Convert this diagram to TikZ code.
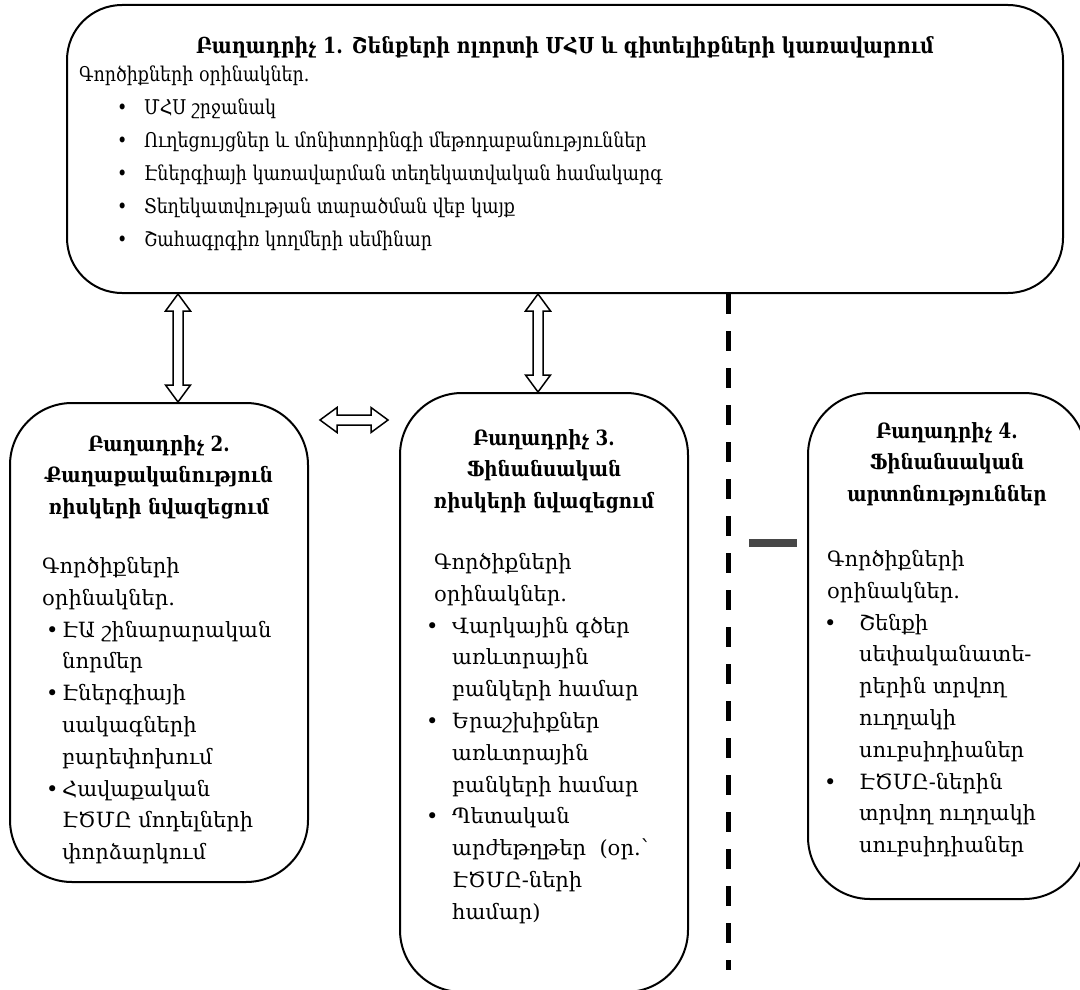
\documentclass[tikz,border=0pt]{standalone}
\usepackage{fontspec}
\setmainfont{DejaVu Serif}
\newfontfamily\narrowfont[FakeStretch=0.86]{DejaVu Serif}
\newfontfamily\headfont[FakeStretch=0.87]{DejaVu Serif}
\usetikzlibrary{positioning,calc}
\newcommand\blt[2]{\hspace*{#1pt}\makebox[#2pt][l]{\textbullet}}
\newcommand\cnt[1]{\hspace*{#1pt}}

\tikzset{
  comp/.style={draw, line width=2pt, rounded corners=62pt, inner sep=0pt},
  head/.style={inner sep=0pt, align=center, font=\fontsize{21}{31.5}\selectfont\headfont\bfseries},
  body/.style={inner sep=0pt, align=left, font=\fontsize{21}{31.8}\selectfont},
  hollow/.style={draw, line width=1.5pt, fill=white, to path={
    let \p1=($(\tikztotarget)-(\tikztostart)$), \n1={atan2(\y1,\x1)} in
    -- ($(\tikztostart)+({\n1}:17pt)+({\n1+90}:12.5pt)$)
    -- ($(\tikztostart)+({\n1}:17pt)+({\n1+90}:5pt)$)
    -- ($(\tikztotarget)+({\n1+180}:17pt)+({\n1+90}:5pt)$)
    -- ($(\tikztotarget)+({\n1+180}:17pt)+({\n1+90}:12.5pt)$)
    -- (\tikztotarget)
    -- ($(\tikztotarget)+({\n1+180}:17pt)+({\n1-90}:12.5pt)$)
    -- ($(\tikztotarget)+({\n1+180}:17pt)+({\n1-90}:5pt)$)
    -- ($(\tikztostart)+({\n1}:17pt)+({\n1-90}:5pt)$)
    -- ($(\tikztostart)+({\n1}:17pt)+({\n1-90}:12.5pt)$)
    -- cycle}},
  sep/.style={line width=5pt, dash pattern=on 20pt off 17pt}
}

\begin{document}
\begin{tikzpicture}[x=1pt,y=-1pt]
  \useasboundingbox (0,0) rectangle (1080,990);

  \node[comp, rounded corners=55pt, minimum width=996pt, minimum height=288pt] (b1) at (565,149) {};
  \node[comp, minimum width=298pt, minimum height=479pt] (b2) at (159,642.5) {};
  \node[comp, minimum width=288pt, minimum height=599pt] (b3) at (544,692.5) {};
  \node[comp, minimum width=278pt, minimum height=506pt] (b4) at (947,646) {};

  \node[head, font=\fontsize{22}{31.5}\selectfont\narrowfont\bfseries, below=32pt of b1.north] (h1)
    {Բաղադրիչ 1. Շենքերի ոլորտի ՄՀՍ և գիտելիքների կառավարում};
  \node[body, font=\fontsize{20.3}{33}\selectfont\narrowfont, below right=62pt and 13pt of b1.north west] (t1)
    {Գործիքների օրինակներ.\\
     \blt{38}{27}ՄՀՍ շրջանակ\\
     \blt{38}{27}Ուղեցույցներ և մոնիտորինգի մեթոդաբանություններ\\
     \blt{38}{27}Էներգիայի կառավարման տեղեկատվական համակարգ\\
     \blt{38}{27}Տեղեկատվության տարածման վեբ կայք\\
     \blt{38}{27}Շահագրգիռ կողմերի սեմինար};

  \node[head, below=33pt of b2.north] (h2) {Բաղադրիչ 2.\\Քաղաքականություն\\ռիսկերի նվազեցում};
  \node[body, below right=155pt and 33pt of b2.north west] (t2)
    {Գործիքների\\օրինակներ.\\
     \blt{4}{16}ԷԱ շինարարական\\\cnt{20}նորմեր\\
     \blt{4}{16}Էներգիայի\\\cnt{20}սակագների\\\cnt{20}բարեփոխում\\
     \blt{4}{16}Հավաքական\\\cnt{20}ԷԾՄԸ մոդելների\\\cnt{20}փորձարկում};

  \node[head, below=37pt of b3.north] (h3) {Բաղադրիչ 3.\\Ֆինանսական\\ռիսկերի նվազեցում};
  \node[body, below right=161pt and 27pt of b3.north west] (t3)
    {\cnt{8}Գործիքների\\\cnt{8}օրինակներ.\\
     \blt{0}{26}Վարկային գծեր\\\cnt{26}առևտրային\\\cnt{26}բանկերի համար\\
     \blt{0}{26}Երաշխիքներ\\\cnt{26}առևտրային\\\cnt{26}բանկերի համար\\
     \blt{0}{26}Պետական\\\cnt{26}արժեթղթեր\ \ (օր.՝\\\cnt{26}ԷԾՄԸ-ների\\\cnt{26}համար)};

  \node[head, below=30pt of b4.north] (h4) {Բաղադրիչ 4.\\Ֆինանսական\\արտոնություններ};
  \node[body, below right=158pt and 17pt of b4.north west] (t4)
    {\cnt{3}Գործիքների\\\cnt{3}օրինակներ.\\
     \blt{0}{35}Շենքի\\\cnt{35}սեփականատե-\\\cnt{35}րերին տրվող\\\cnt{35}ուղղակի\\\cnt{35}սուբսիդիաներ\\
     \blt{0}{35}ԷԾՄԸ-ներին\\\cnt{35}տրվող ուղղակի\\\cnt{35}սուբսիդիաներ};

  \coordinate (x2) at (178,0);
  \coordinate (x3) at (538,0);
  \coordinate (ha) at (320,420);
  \coordinate (hb) at (388,420);
  \coordinate (dl) at (728,970);

  \draw[hollow] (b1.south -| x2) to (b2.north -| x2);
  \draw[hollow] (b1.south -| x3) to (b3.north -| x3);
  \draw[hollow] (ha) to (hb);
  \draw[sep] (b1.south -| dl) -- (dl);
  \fill[black!72] (749,539) rectangle (797,547);
\end{tikzpicture}
\end{document}
